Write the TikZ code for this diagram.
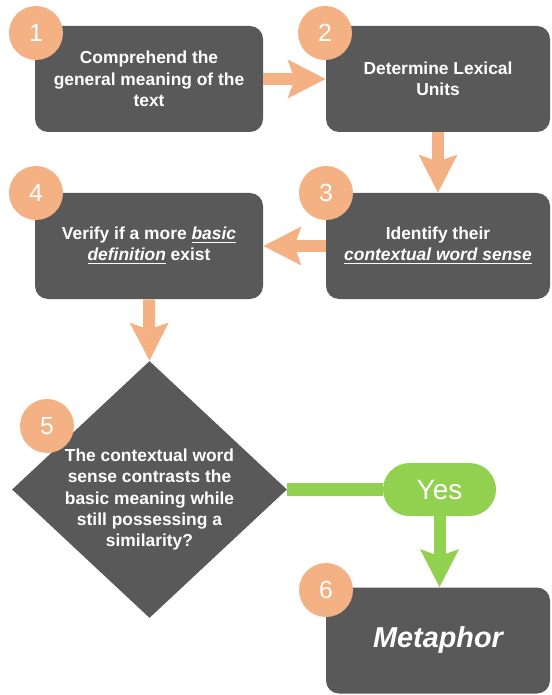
\documentclass[tikz,border=0pt]{standalone}
\usepackage{fontspec}
\setmainfont{Liberation Sans}
\usepackage{tikz}
\usetikzlibrary{shapes.geometric, arrows.meta, positioning, calc}
\definecolor{boxgray}{HTML}{595959}
\definecolor{steporange}{HTML}{F4B183}
\definecolor{yesgreen}{HTML}{92D050}
\newcommand{\keyterm}[1]{\underline{\textit{#1}}}

\begin{document}
\begin{tikzpicture}[x=0.5pt, y=-0.5pt,
    box/.style={rectangle, rounded corners=6.5pt, fill=boxgray, text=white, minimum width=#1, minimum height=53pt, inner sep=2pt, font=\fontsize{8.7}{10.7}\selectfont\bfseries, align=center},
    decision/.style={diamond, fill=boxgray, minimum width=137.5pt, minimum height=128.5pt, inner sep=0pt},
    numdot/.style={circle, fill=steporange, text=white, minimum size=27pt, inner sep=0pt, font=\fontsize{12.4}{14}\selectfont},
    pill/.style={rectangle, rounded corners=13.25pt, fill=yesgreen, text=white, minimum width=56.5pt, minimum height=26.5pt, font=\fontsize{14}{16}\selectfont},
    arrow/.style={-{Stealth[length=19pt, width=19.5pt, inset=3.5pt, line width=0pt]}, line width=6pt, color=#1},
    arrow/.default=steporange
]
\useasboundingbox (0,0) rectangle (551,695);

% Steps
\node[box=114pt] (b1) at (149,79) {Comprehend the\\ general meaning of the\\ text};
\node[box=112pt] (b2) at (438,79) {Determine Lexical\\ Units};
\node[box=112pt] (b3) at (438,246) {Identify their\\ \keyterm{contextual word sense}};
\node[box=114pt] (b4) at (149,246) {Verify if a more \keyterm{basic}\\ \keyterm{definition} exist};

% Decision
\node[decision] (q5) at (149.5,489.5) {};
\node[text=white, align=center, font=\fontsize{8.7}{10.6}\selectfont\bfseries] (q5text) at ([yshift=-5pt]q5.center) {The contextual word\\ sense contrasts the\\ basic meaning while\\ still possessing a\\ similarity?};
\node[pill] (yes) at (439.5,489.5) {Yes};

% Result
\node[box=112pt, font=\fontsize{14.4}{17}\selectfont\bfseries\itshape] (b6) at (438,640.5) {Metaphor};

% Connectors
\draw[arrow] (b1.east) -- (b2.west);
\draw[arrow] (b2.south) -- (b3.north);
\draw[arrow] (b3.west) -- (b4.east);
\draw[arrow] (b4.south) -- (q5.north);
\draw[line width=6.3pt, yesgreen] (q5.east) -- (q5.east -| yes.west);
\draw[arrow=yesgreen] (yes.south) -- (yes.south |- b6.north);

% Step numbers
\node[numdot] (n1) at (36,33) {1};
\node[numdot] (n2) at (325,33) {2};
\node[numdot] (n3) at (326,193) {3};
\node[numdot] (n4) at (36,193) {4};
\node[numdot] (n5) at (47,426) {5};
\node[numdot] (n6) at (326,590) {6};

\end{tikzpicture}
\end{document}
